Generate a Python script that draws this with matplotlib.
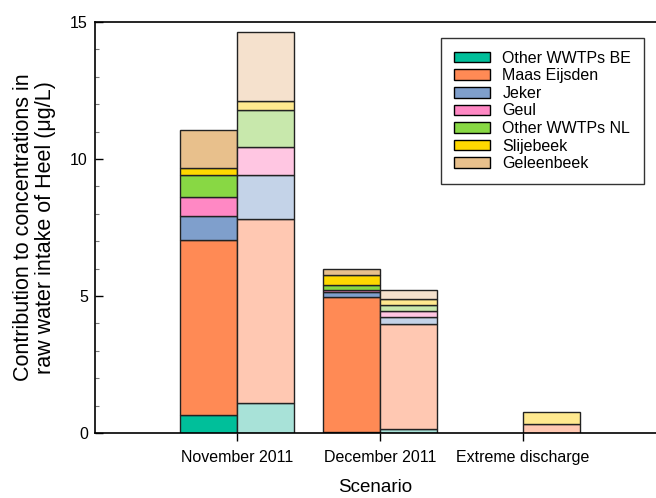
import matplotlib
matplotlib.use("Agg")
import matplotlib.pyplot as plt
from matplotlib.patches import Patch
from matplotlib.ticker import MultipleLocator
import numpy as np

plt.rcParams['font.family'] = ['Liberation Sans', 'DejaVu Sans']

scenarios = ["November 2011", "December 2011", "Extreme discharge"]
sources = ["Other WWTPs BE", "Maas Eijsden", "Jeker", "Geul",
           "Other WWTPs NL", "Slijebeek", "Geleenbeek"]

# contributions (ug/L) per source, one value per scenario
# first bar of each scenario
first_bar = [
    [0.66, 0.05, 0.0],   # Other WWTPs BE
    [6.37, 4.90, 0.0],   # Maas Eijsden
    [0.90, 0.18, 0.0],   # Jeker
    [0.69, 0.08, 0.0],   # Geul
    [0.78, 0.19, 0.0],   # Other WWTPs NL
    [0.28, 0.37, 0.0],   # Slijebeek
    [1.38, 0.20, 0.0],   # Geleenbeek
]
# second bar of each scenario
second_bar = [
    [1.11, 0.14, 0.0],   # Other WWTPs BE
    [6.70, 3.84, 0.32],  # Maas Eijsden
    [1.61, 0.24, 0.0],   # Jeker
    [1.02, 0.22, 0.0],   # Geul
    [1.35, 0.24, 0.0],   # Other WWTPs NL
    [0.34, 0.21, 0.45],  # Slijebeek
    [2.49, 0.33, 0.0],   # Geleenbeek
]

dark_colors = ["#00BF9A", "#FF8A55", "#7F9FCC", "#FF88C4",
               "#88D844", "#FFD800", "#E8C08C"]
light_colors = ["#A8E2D8", "#FFC8B2", "#C4D3E8", "#FFC6E2",
                "#C8E8AC", "#FFE98F", "#F5E1CD"]

fig = plt.figure(figsize=(6.56, 4.98), dpi=100)
ax = fig.add_axes([0.1444, 0.1305, 0.8556, 0.8253])

x = np.arange(len(scenarios))
width = 0.4

def stack(values, offset, colors):
    bottom = np.zeros(len(scenarios))
    for vals, col in zip(values, colors):
        vals = np.asarray(vals, dtype=float)
        mask = vals > 0
        ax.bar(x[mask] + offset, vals[mask], width, bottom=bottom[mask],
               color=col, edgecolor="#222222", linewidth=1.0, zorder=2)
        bottom += vals

stack(first_bar, -width / 2, dark_colors)
stack(second_bar, width / 2, light_colors)

ax.set_xlim(-1.0, 2.934)
ax.set_ylim(0, 15)
ax.set_xticks(x)
ax.set_xticklabels(scenarios, fontsize=11.5)
ax.yaxis.set_major_locator(MultipleLocator(5))
ax.yaxis.set_minor_locator(MultipleLocator(1))
ax.tick_params(axis='y', which='major', direction='in', length=6, width=1, labelsize=11.5, pad=5)
ax.tick_params(axis='y', which='minor', direction='in', length=3, width=0.8, color='#777777')
ax.tick_params(axis='x', which='major', direction='out', length=6, width=1, pad=6)

for side in ['left', 'bottom', 'top']:
    ax.spines[side].set_linewidth(1.2)
ax.spines['right'].set_visible(False)

ax.set_xlabel("Scenario", fontsize=13.5, labelpad=10.5)
ax.set_ylabel("Contribution to concentrations in\nraw water intake of Heel (\u03bcg/L)",
              fontsize=15.5, labelpad=10, linespacing=1.1)

handles = [Patch(facecolor=c, edgecolor='black', linewidth=1.0) for c in dark_colors]
leg = ax.legend(handles, sources, loc='upper right',
                bbox_to_anchor=(644 / 656, 1 - 38 / 498),
                bbox_transform=fig.transFigure,
                fontsize=11.5, frameon=True, fancybox=False,
                edgecolor='black', handlelength=2.3, handleheight=0.65,
                labelspacing=0.16, borderpad=0.8, handletextpad=0.75,
                borderaxespad=0)
leg.get_frame().set_linewidth(1.0)

fig.savefig("out.png", dpi=100)
